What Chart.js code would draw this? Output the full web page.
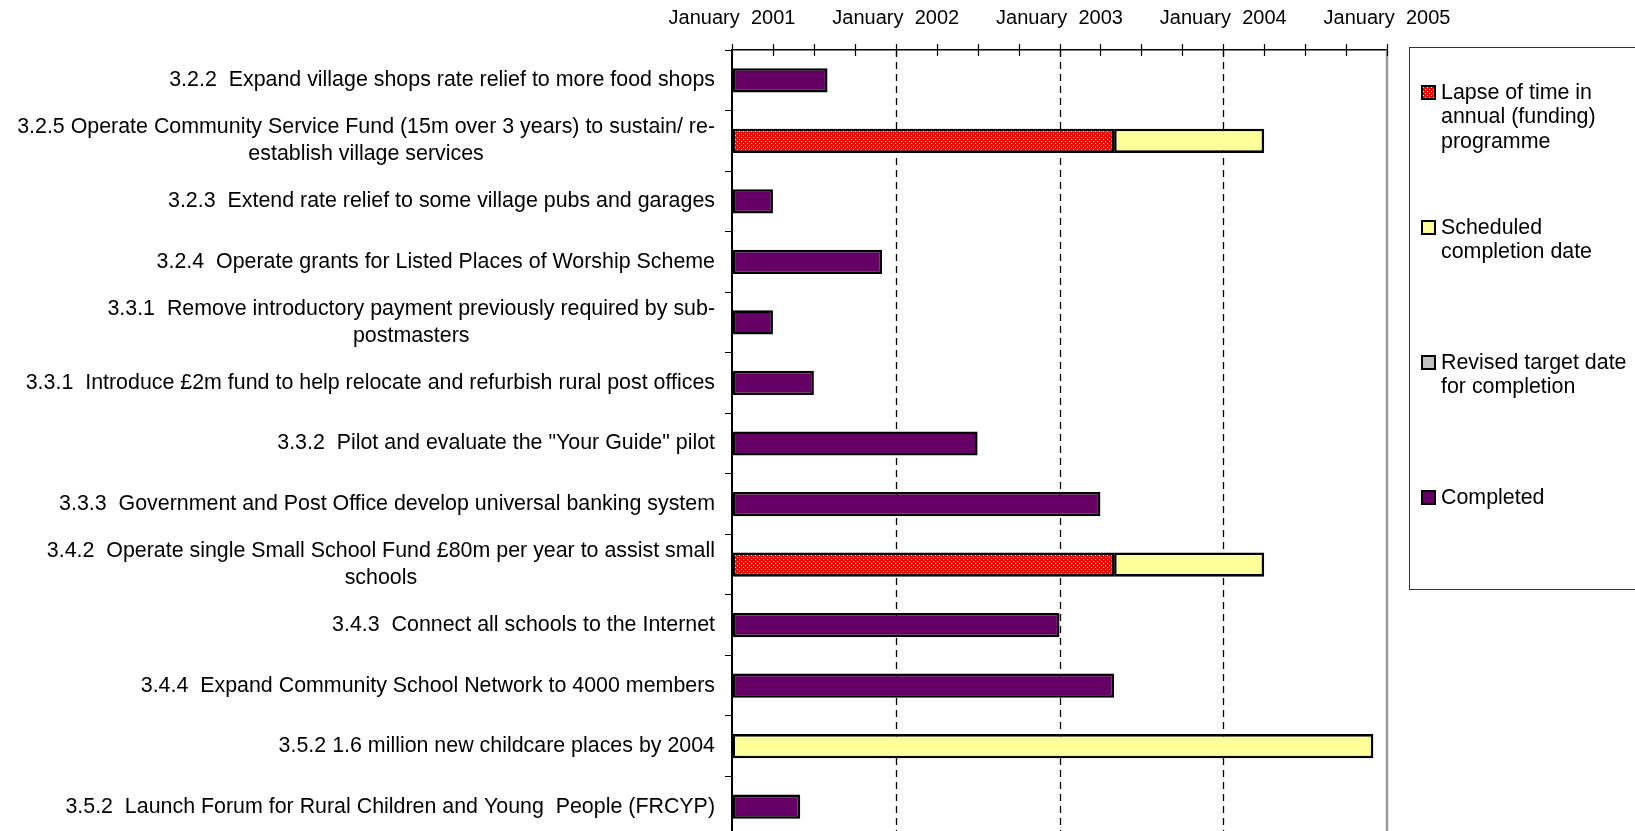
<!DOCTYPE html>
<html>
<head>
<meta charset="utf-8">
<script src="https://cdn.jsdelivr.net/npm/chart.js@4"></script>
<style>
  html, body { margin: 0; padding: 0; background: #fff; overflow: hidden; }
</style>
</head>
<body>
<canvas id="ganttChart" width="1635" height="837"></canvas>
<script>
// task labels, top to bottom
var categories = [
    '3.2.2  Expand village shops rate relief to more food shops',
    ['3.2.5 Operate Community Service Fund (15m over 3 years) to sustain/ re-', 'establish village services'],
    '3.2.3  Extend rate relief to some village pubs and garages',
    '3.2.4  Operate grants for Listed Places of Worship Scheme',
    ['3.3.1  Remove introductory payment previously required by sub-', 'postmasters'],
    '3.3.1  Introduce £2m fund to help relocate and refurbish rural post offices',
    '3.3.2  Pilot and evaluate the "Your Guide" pilot',
    '3.3.3  Government and Post Office develop universal banking system',
    ['3.4.2  Operate single Small School Fund £80m per year to assist small', 'schools'],
    '3.4.3  Connect all schools to the Internet',
    '3.4.4  Expand Community School Network to 4000 members',
    '3.5.2 1.6 million new childcare places by 2004',
    '3.5.2  Launch Forum for Rural Children and Young  People (FRCYP)'
];

// end dates (year-month) of each segment, all bars start January 2001
var startDate = '2001-01';
var lapseEnd = [null, '2003-05', null, null, null, null, null, null, '2003-05', null, null, null, null];
var scheduledEnd = [null, '2004-04', null, null, null, null, null, null, '2004-04', null, null, '2004-12', null];
var revisedEnd = [null, null, null, null, null, null, null, null, null, null, null, null, null];
var completedEnd = ['2001-08', null, '2001-04', '2001-12', '2001-04', '2001-07', '2002-07', '2003-04', null, '2003-01', '2003-05', null, '2001-06'];

var tickYears = [2001, 2002, 2003, 2004, 2005];

var legendLabels = [
    ['Lapse of time in', 'annual (funding)', 'programme'],
    ['Scheduled', 'completion date'],
    ['Revised target date', 'for completion'],
    ['Completed']
];

var FONT = "'Liberation Sans', Arial, sans-serif";

function toMonths(s) {
    var p = s.split('-');
    var p0 = startDate.split('-');
    return (parseInt(p[0]) - parseInt(p0[0])) * 12 + (parseInt(p[1]) - parseInt(p0[1]));
}

function dotPattern() {
    var c = document.createElement('canvas');
    c.width = 4; c.height = 4;
    var g = c.getContext('2d');
    g.fillStyle = '#ff0000';
    g.fillRect(0, 0, 4, 4);
    g.fillStyle = '#ffd8d8';
    g.fillRect(1, 1, 1, 1);
    g.fillRect(3, 3, 1, 1);
    return g.createPattern(c, 'repeat');
}

var lapseData = lapseEnd.map(function(e) { return e ? [0, toMonths(e)] : null; });
var scheduledData = scheduledEnd.map(function(e, i) {
    if (!e) return null;
    return [lapseEnd[i] ? toMonths(lapseEnd[i]) : 0, toMonths(e)];
});
var revisedData = revisedEnd.map(function(e) { return e ? [0, toMonths(e)] : null; });
var completedData = completedEnd.map(function(e) { return e ? [0, toMonths(e)] : null; });

var barStyle = {
    borderColor: '#000',
    borderWidth: 2.6,
    borderSkipped: false,
    grouped: false,
    barPercentage: 0.4,
    categoryPercentage: 1
};

var extras = {
    id: 'extras',
    beforeDatasetsDraw: function(chart) {
        var ctx = chart.ctx, area = chart.chartArea, x = chart.scales.x;
        ctx.save();
        ctx.strokeStyle = '#000';
        ctx.lineWidth = 1.3;
        ctx.setLineDash([7, 5]);
        for (var v = 12; v < 48; v += 12) {
            var px = Math.round(x.getPixelForValue(v)) + 0.5;
            ctx.beginPath();
            ctx.moveTo(px, area.top);
            ctx.lineTo(px, area.bottom);
            ctx.stroke();
        }
        ctx.restore();
    },
    afterDraw: function(chart) {
        var ctx = chart.ctx, area = chart.chartArea, x = chart.scales.x, y = chart.scales.y;
        ctx.save();
        // right border of plot
        ctx.strokeStyle = '#999';
        ctx.lineWidth = 2.5;
        ctx.beginPath();
        ctx.moveTo(area.right, area.top);
        ctx.lineTo(area.right, area.bottom);
        ctx.stroke();
        // cross ticks on top axis
        ctx.strokeStyle = '#000';
        ctx.lineWidth = 1.2;
        x.ticks.forEach(function(t) {
            var px = Math.round(x.getPixelForValue(t.value)) + 0.5;
            ctx.beginPath();
            ctx.moveTo(px, area.top - 6);
            ctx.lineTo(px, area.top + 6);
            ctx.stroke();
        });
        // category labels: block right-aligned, lines centred in the block
        ctx.fillStyle = '#000';
        ctx.font = '21.4px ' + FONT;
        ctx.textBaseline = 'middle';
        ctx.textAlign = 'center';
        var right = area.left - 17;
        var lh = 27;
        chart.data.labels.forEach(function(lbl, i) {
            var lines = Array.isArray(lbl) ? lbl : [lbl];
            var w = Math.max.apply(null, lines.map(function(l) { return ctx.measureText(l).width; }));
            var cy = y.getPixelForValue(i) - (lines.length - 1) * lh / 2;
            lines.forEach(function(line, j) {
                ctx.fillText(line, right - w / 2, cy + j * lh);
            });
        });
        // legend box
        var bx = 1409, by = 47, bh = 542, slot = 135;
        ctx.strokeStyle = '#333';
        ctx.lineWidth = 1;
        ctx.strokeRect(bx + 0.5, by + 0.5, 400, bh);
        ctx.font = '21.4px ' + FONT;
        ctx.textAlign = 'left';
        chart.data.datasets.forEach(function(ds, i) {
            var ly = by + slot * i + 46;
            ctx.fillStyle = ds.backgroundColor;
            ctx.fillRect(1422, ly - 7, 13, 13);
            ctx.strokeStyle = '#000';
            ctx.lineWidth = 2;
            ctx.strokeRect(1422, ly - 7, 13, 13);
            ctx.fillStyle = '#000';
            legendLabels[i].forEach(function(line, j) {
                ctx.fillText(line, 1441, ly + j * 24.5);
            });
        });
        ctx.restore();
    }
};

var chart = new Chart(document.getElementById('ganttChart'), {
    type: 'bar',
    data: {
        labels: categories,
        datasets: [
            Object.assign({ label: 'Lapse of time in annual (funding) programme', data: lapseData, backgroundColor: dotPattern() }, barStyle),
            Object.assign({ label: 'Scheduled completion date', data: scheduledData, backgroundColor: '#ffff99' }, barStyle),
            Object.assign({ label: 'Revised target date for completion', data: revisedData, backgroundColor: '#c0c0c0' }, barStyle),
            Object.assign({ label: 'Completed', data: completedData, backgroundColor: '#660066' }, barStyle)
        ]
    },
    options: {
        indexAxis: 'y',
        responsive: false,
        animation: false,
        layout: { padding: { left: 0, right: 248, top: 0, bottom: 0 } },
        plugins: {
            legend: { display: false },
            tooltip: { enabled: false }
        },
        scales: {
            x: {
                position: 'top',
                min: 0,
                max: 48,
                ticks: {
                    stepSize: 3,
                    autoSkip: false,
                    maxRotation: 0,
                    padding: 20,
                    color: '#000',
                    font: { family: FONT, size: 20 },
                    callback: function(v) {
                        return v % 12 === 0 ? 'January  ' + tickYears[v / 12] : '';
                    }
                },
                grid: { drawOnChartArea: false, drawTicks: false },
                border: { color: '#000', width: 1.5 },
                afterFit: function(scale) { scale.height = 50; }
            },
            y: {
                ticks: { display: false },
                grid: { drawOnChartArea: false, drawTicks: true, tickLength: 7, color: '#000', offset: true },
                border: { color: '#000', width: 2 },
                afterFit: function(scale) { scale.width = 732; }
            }
        }
    },
    plugins: [extras]
});
</script>
</body>
</html>
